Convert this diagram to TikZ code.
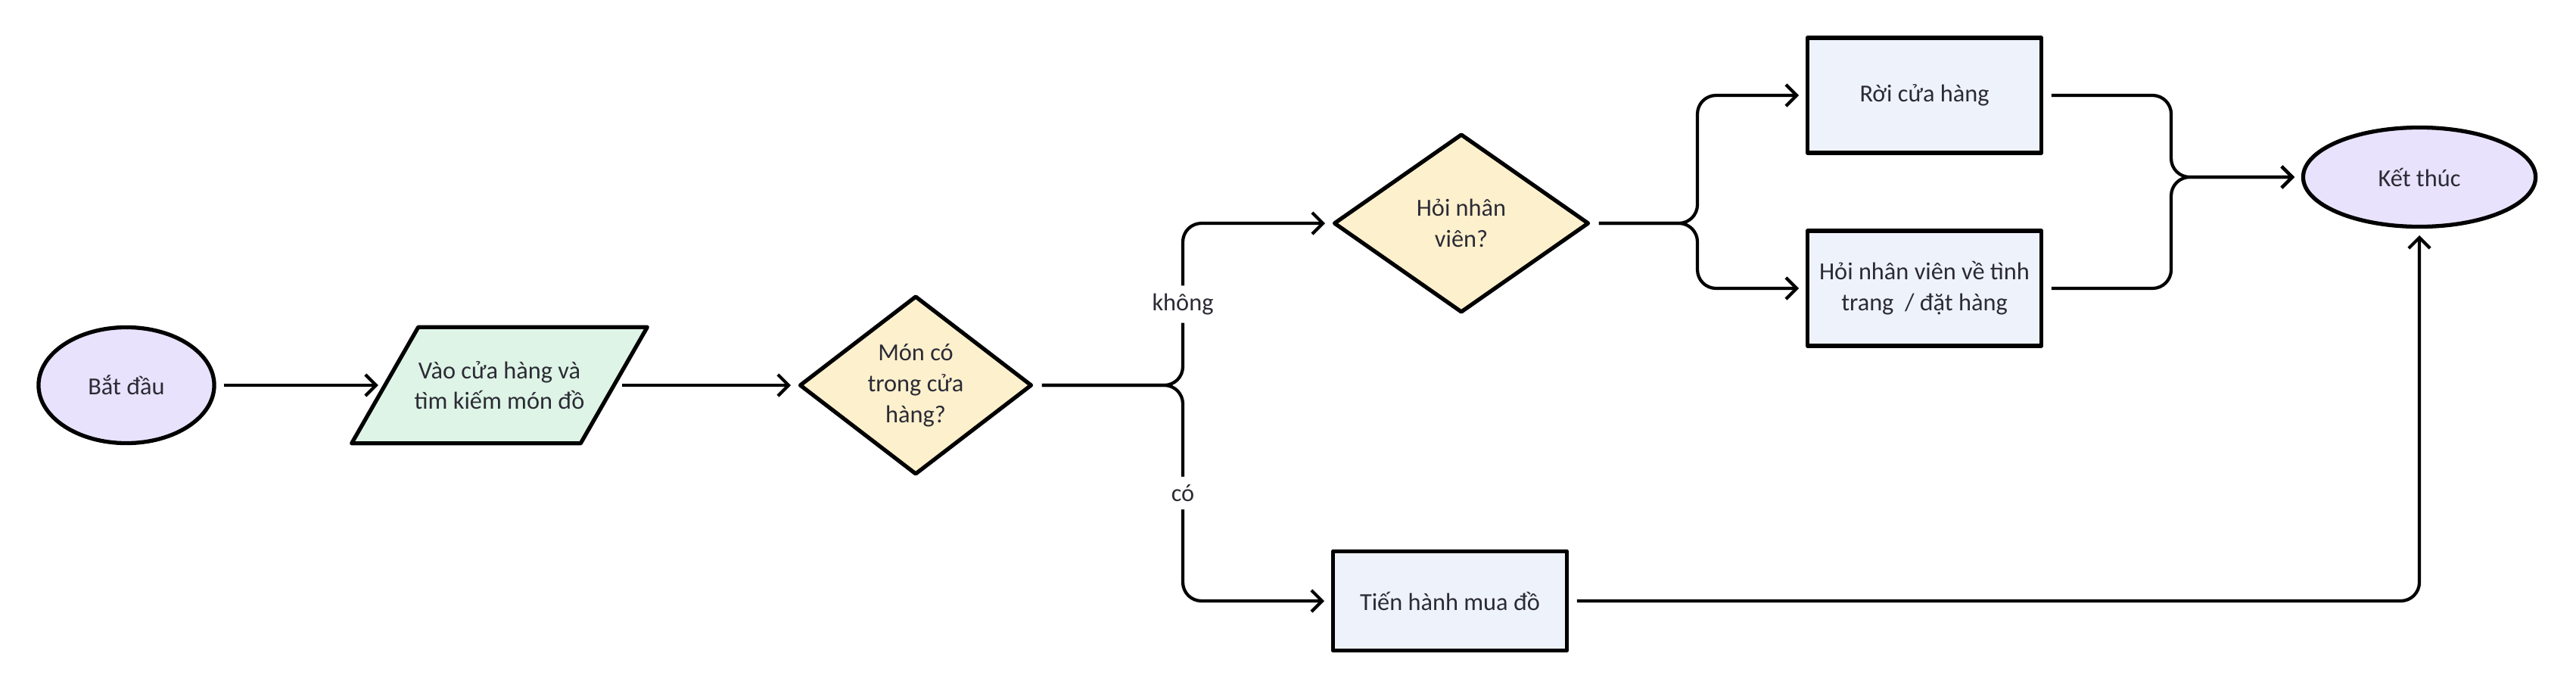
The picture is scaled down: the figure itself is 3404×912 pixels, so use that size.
\documentclass[tikz,border=0pt]{standalone}
\usepackage{fontspec}
\setmainfont{Carlito}
\usetikzlibrary{arrows.meta,shapes.geometric,backgrounds}
\definecolor{termfill}{HTML}{E8E2FC}
\definecolor{iofill}{HTML}{DEF4E6}
\definecolor{decfill}{HTML}{FDF0CD}
\definecolor{procfill}{HTML}{EEF2FB}
\definecolor{txt}{HTML}{2B2B35}
\tikzset{
    every node/.style={
        font=\fontsize{9.2}{11.6}\selectfont,
        text=txt,
        align=center
    },
    shapeline/.style={draw=black, line width=1.5pt, line join=round, inner sep=0pt},
    terminal/.style={shapeline, ellipse, fill=termfill},
    iotext/.style={rectangle, inner sep=0pt, minimum width=3.01cm, minimum height=1.52cm},
    decision/.style={shapeline, diamond, fill=decfill, minimum height=2.36cm},
    process/.style={shapeline, rectangle, fill=procfill, minimum width=3.09cm},
    flow/.style={
        draw=black, line width=1.2pt, rounded corners=7pt,
        -{Straight Barb[length=4pt,width=8pt]},
        shorten <=3pt, shorten >=2.5pt
    },
    answer/.style={fill=white, inner sep=3pt}
}
\begin{document}
\begin{tikzpicture}[x=0.01cm, y=-0.01cm]
    \useasboundingbox (0,0) rectangle (3404,912);

    % nodes
    \node[terminal, minimum width=2.32cm, minimum height=1.53cm] (start) at (167,509) {Bắt đầu};
    \node[iotext] (enter) at (660,509) {Vào cửa hàng và\\tìm kiếm món đồ};
    \node[decision, minimum width=3.07cm] (instock) at (1210,509) {Món có\\trong cửa\\hàng?};
    \node[decision, minimum width=3.37cm] (askstaff) at (1931,295) {Hỏi nhân\\viên?};
    \node[process, minimum height=1.52cm] (leave) at (2543,126) {Rời cửa hàng};
    \node[process, minimum height=1.52cm] (inquire) at (2543,381) {Hỏi nhân viên về tình\\trang\ \ / đặt hàng};
    \node[process, minimum height=1.31cm] (buy) at (1916,794) {Tiến hành mua đồ};
    \node[terminal, minimum width=3.07cm, minimum height=1.31cm] (finish) at (3197,234) {Kết thúc};

    % parallelogram behind the input text
    \begin{scope}[on background layer]
        \draw[shapeline, fill=iofill] ([xshift=-0.44cm]enter.south west) -- ([xshift=0.44cm]enter.north west)
            -- ([xshift=0.44cm]enter.north east) -- ([xshift=-0.44cm]enter.south east) -- cycle;
    \end{scope}

    \coordinate (split1) at (1563,509);
    \coordinate (split2) at (2243,295);
    \coordinate (merge) at (2869,234);

    % connectors
    \draw[flow] (start) -- (enter);
    \draw[flow] (enter) -- (instock);
    \draw[flow] (instock.east) -- (split1) |- node[answer, pos=0.25] {không} (askstaff.west);
    \draw[flow] (instock.east) -- (split1) |- node[answer, pos=0.25] {có} (buy.west);
    \draw[flow] (askstaff.east) -- (split2) |- (leave.west);
    \draw[flow] (askstaff.east) -- (split2) |- (inquire.west);
    \draw[flow] (leave.east) -| (merge) -- (finish.west);
    \draw[flow] (inquire.east) -| (merge) -- (finish.west);
    \draw[flow] (buy.east) -| (finish.south);
\end{tikzpicture}
\end{document}
